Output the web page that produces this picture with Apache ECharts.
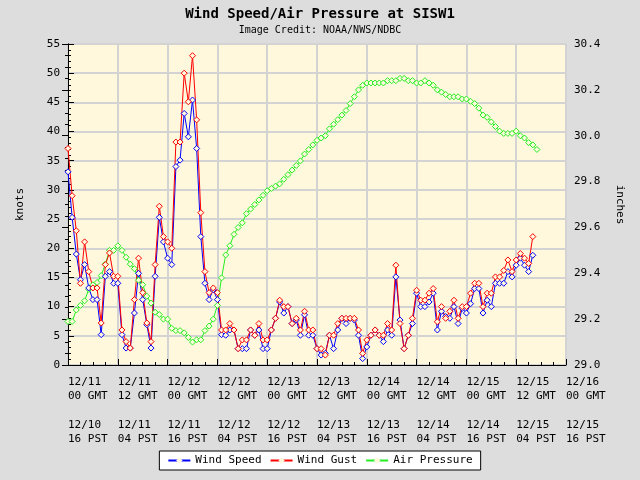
<!DOCTYPE html><html><head><meta charset="utf-8"><script src="https://cdn.jsdelivr.net/npm/echarts@6/dist/echarts.min.js"></script></head><body style="margin:0;background:#dddddd"><div id="c" style="width:640px;height:480px"></div><script>
const gmtLabels=['12/11\n00 GMT','12/11\n12 GMT','12/12\n00 GMT','12/12\n12 GMT','12/13\n00 GMT','12/13\n12 GMT','12/14\n00 GMT','12/14\n12 GMT','12/15\n00 GMT','12/15\n12 GMT','12/16\n00 GMT'];
const pstLabels=['12/10\n16 PST','12/11\n04 PST','12/11\n16 PST','12/12\n04 PST','12/12\n16 PST','12/13\n04 PST','12/13\n16 PST','12/14\n04 PST','12/14\n16 PST','12/15\n04 PST','12/15\n16 PST'];
const windSpeed=[33.1,25.3,19,14.6,17.2,13.2,11.2,11.2,5.2,15.2,16,14,14,5.2,2.9,2.9,8.9,15.7,11.2,6.9,2.9,15.2,25.3,21.1,18.3,17.2,34,35.1,43.1,39.1,45.4,37.1,22,14,11.2,12.9,11.2,5.2,
5.1,6,6,2.8,2.8,2.8,6,5.1,6,2.8,2.8,6,8,10.8,8.9,10,7.1,7.7,5.1,8.6,5.1,5.1,2.8,1.7,2,5.1,2.8,6,8,7.1,8,7.7,5.1,1.1,3.1,5.1,6,5.1,4,6,5.1,15.1,7.7,2.8,5.1,7.1,12.3,
10,10,10.8,12.3,6,9.2,8.3,8,10,7.1,9.7,8.9,10.5,13.1,13.1,8.9,11.1,10,14,14,14,16,15.1,17.1,18.3,17.1,16,18.8];
const windGust=[37.1,29,23,14,21.1,16,13.2,13.2,7.2,17.2,19.2,15.2,15.2,6,4,2.9,11.2,18.3,12.4,7.2,4,17.2,27.2,22,21.1,20,38.2,38.2,50,45.1,53,42,26.1,16,12.4,13.2,12.4,6,
6,7.1,6,2.8,4.3,4.3,6,5.1,7.1,4.3,4.3,6,8,11.1,10,10,7.1,8,6,9.2,6,6,2.8,2.8,1.7,5.1,5.1,7.1,8,8,8,8,6,2,4.3,5.1,6,5.1,5.1,7.1,6,17.1,7.1,2.8,5.1,8,12.8,
11.1,11.1,12.3,13.1,7.4,10,8,9.2,11.1,8,10,10,12.3,14,14,10,12.3,12.3,15.1,15.1,16.2,18,16,18,19.1,18.3,17.4,22];
const airPressure=[29.19,29.19,29.24,29.26,29.28,29.33,29.35,29.36,29.39,29.44,29.50,29.50,29.52,29.50,29.47,29.44,29.42,29.37,29.35,29.30,29.27,29.23,29.22,29.20,29.20,29.16,29.15,29.15,29.14,29.12,29.10,29.11,29.11,29.15,29.17,29.20,29.26,29.38,29.48,29.52,29.57,29.60,29.62,29.66,29.68,29.70,29.72,29.74,
29.76,29.77,29.78,29.79,29.81,29.83,29.85,29.87,29.89,29.92,29.94,29.96,29.98,29.99,30.00,30.03,30.05,30.07,30.09,30.11,30.14,30.17,30.20,30.22,30.23,30.23,30.23,30.23,30.23,30.24,30.24,30.24,30.25,30.25,30.24,30.24,30.23,30.23,30.24,30.23,30.22,30.20,30.19,30.18,30.17,30.17,30.17,30.16,30.16,30.15,30.14,30.12,30.09,30.08,30.06,30.04,30.02,30.01,30.01,30.01,30.02,30.00,29.99,29.97,29.96,29.94];
const pts=a=>a.map((v,i)=>[i,v]);
const F='DejaVu Sans Mono';
const ch=echarts.init(document.getElementById('c'));
const sym={symbol:'diamond',symbolSize:6,showSymbol:true,lineStyle:{width:1},itemStyle:{color:'#fff'}};
ch.setOption({
animation:false,backgroundColor:'#dddddd',
title:{text:'Wind Speed/Air Pressure at SISW1',subtext:'Image Credit: NOAA/NWS/NDBC',left:'center',top:2,itemGap:4,
textStyle:{fontFamily:F,fontSize:14,fontWeight:'bold',color:'#000'},subtextStyle:{fontFamily:F,fontSize:10,color:'#000'}},
legend:{bottom:10,left:'center',backgroundColor:'#fff',borderColor:'#000',borderWidth:1,padding:[4,8],itemWidth:22,itemHeight:8,
textStyle:{fontFamily:F,fontSize:11,color:'#000'},data:['Wind Speed','Wind Gust','Air Pressure']},
grid:{left:68,right:74,top:44,bottom:115,show:true,backgroundColor:'#fff8dc',borderColor:'#000',borderWidth:1},
xAxis:[{type:'value',min:0,max:120,interval:12,position:'bottom',
axisLine:{lineStyle:{color:'#000'}},axisTick:{inside:true,length:6,lineStyle:{color:'#000'}},minorTick:{show:true,splitNumber:4,length:3,lineStyle:{color:'#000'}},
splitLine:{show:true,lineStyle:{color:'#d3d3d3',width:2}},
axisLabel:{fontFamily:F,fontSize:11,color:'#000',align:'left',margin:10,lineHeight:14,formatter:v=>gmtLabels[v/12]}},
{type:'value',min:0,max:120,interval:12,position:'bottom',offset:43,axisLine:{show:false},axisTick:{show:false},splitLine:{show:false},
axisLabel:{fontFamily:F,fontSize:11,color:'#000',align:'left',margin:10,lineHeight:14,formatter:v=>pstLabels[v/12]}}],
yAxis:[{type:'value',min:0,max:55,interval:5,name:'knots',nameLocation:'middle',nameGap:42,nameTextStyle:{fontFamily:F,fontSize:11,color:'#000'},
axisLine:{show:true,lineStyle:{color:'#000'}},axisTick:{inside:true,length:6},minorTick:{show:true,splitNumber:5,length:3,lineStyle:{color:'#000'}},
splitLine:{lineStyle:{color:'#d3d3d3',width:2}},axisLabel:{fontFamily:F,fontSize:11,color:'#000'}},
{type:'value',min:29.0,max:30.4,interval:0.2,name:'inches',nameLocation:'middle',nameGap:48,nameRotate:-90,nameTextStyle:{fontFamily:F,fontSize:11,color:'#000'},
axisLine:{show:true,lineStyle:{color:'#000'}},axisTick:{inside:true,length:6},minorTick:{show:true,splitNumber:4,length:3,lineStyle:{color:'#000'}},
splitLine:{show:false},axisLabel:{fontFamily:F,fontSize:11,color:'#000',formatter:v=>v.toFixed(1)}}],
series:[
Object.assign({name:'Air Pressure',type:'line',yAxisIndex:1,data:pts(airPressure),color:'#22ee22'},sym,{itemStyle:{color:'#fff8dc',borderColor:'#22ee22'},lineStyle:{width:1,color:'#22ee22'}}),
Object.assign({name:'Wind Speed',type:'line',data:pts(windSpeed),color:'#0000ff'},sym,{itemStyle:{color:'#fff8dc',borderColor:'#0000ff'},lineStyle:{width:1,color:'#0000ff'}}),
Object.assign({name:'Wind Gust',type:'line',data:pts(windGust),color:'#ff0000'},sym,{itemStyle:{color:'#fff8dc',borderColor:'#ff0000'},lineStyle:{width:1,color:'#ff0000'}})
]});
</script></body></html>
